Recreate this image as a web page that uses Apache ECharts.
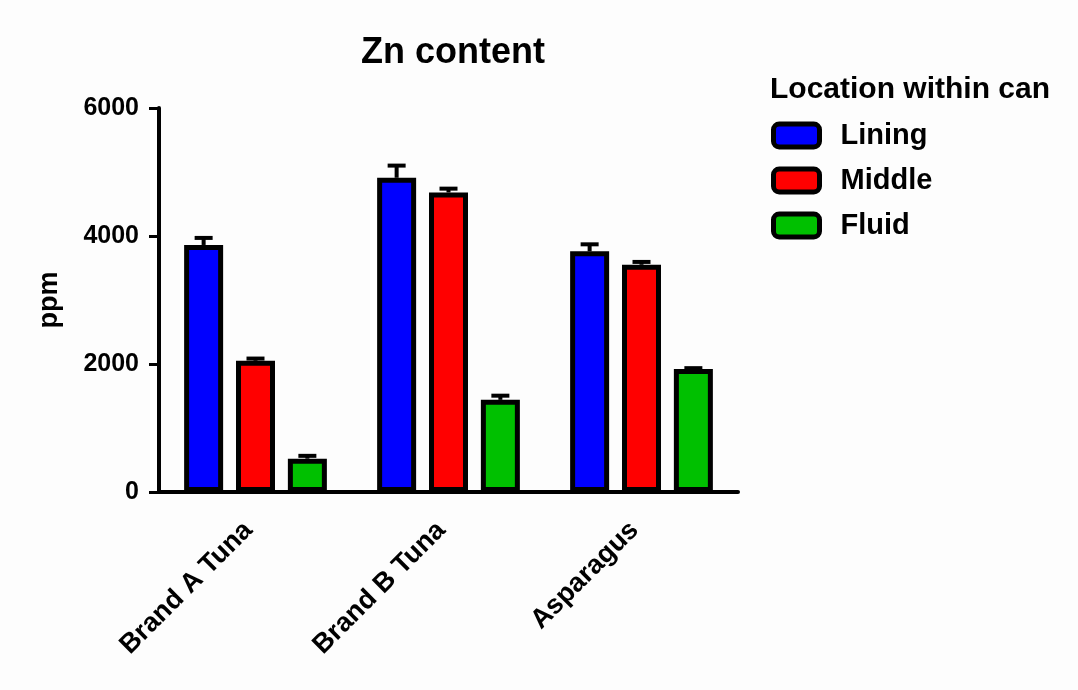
<!DOCTYPE html>
<html>
<head>
<meta charset="utf-8">
<script src="https://cdn.jsdelivr.net/npm/echarts@6/dist/echarts.min.js"></script>
<style>
  html, body { margin: 0; padding: 0; background: #fdfdfd; }
  #chart { width: 1078px; height: 690px; }
</style>
</head>
<body>
<div id="chart"></div>
<script>
// Zn content (ppm) by sample and location within the can, mean + SEM
const categories = ['Brand A Tuna', 'Brand B Tuna', 'Asparagus'];
const seriesNames = ['Lining', 'Middle', 'Fluid'];
const liningMean = [3860, 4910, 3760];
const middleMean = [2050, 4680, 3550];
const fluidMean = [520, 1440, 1920];
const liningErr = [110, 190, 110];
const middleErr = [35, 60, 45];
const fluidErr = [45, 65, 15];
const yTicks = [0, 2000, 4000, 6000];

const means = [liningMean, middleMean, fluidMean];
const errs = [liningErr, middleErr, fluidErr];
const colors = ['#0000ff', '#ff0000', '#00c000'];

const FONT = 'Liberation Sans, Arial, sans-serif';
const BAR_W = 39;
const BAR_GAP = 0.33;
const STEP = BAR_W * (1 + BAR_GAP);

const chart = echarts.init(document.getElementById('chart'), null, { renderer: 'canvas' });

const barSeries = seriesNames.map((name, i) => ({
  name: name,
  type: 'bar',
  barWidth: BAR_W,
  barGap: (BAR_GAP * 100) + '%',
  data: means[i],
  itemStyle: { color: colors[i], borderColor: '#000', borderWidth: 5 },
  z: 2
}));

// upper error bars: stem from the bar top plus a short cap
const errSeries = seriesNames.map((name, i) => ({
  name: name + ' SEM',
  type: 'custom',
  z: 3,
  data: categories.map((c, k) => [k, means[i][k], errs[i][k]]),
  renderItem: function (params, api) {
    const k = api.value(0);
    const m = api.value(1);
    const e = api.value(2);
    const base = api.coord([k, m]);
    const top = api.coord([k, m + e]);
    const x = base[0] + (i - 1) * STEP;
    const capHalf = 9;
    const style = { stroke: '#000', lineWidth: 4 };
    return {
      type: 'group',
      children: [
        { type: 'line', shape: { x1: x, y1: base[1], x2: x, y2: top[1] }, style: style },
        { type: 'line', shape: { x1: x - capHalf, y1: top[1], x2: x + capHalf, y2: top[1] }, style: style }
      ]
    };
  }
}));

chart.setOption({
  backgroundColor: '#fdfdfd',
  animation: false,
  title: [
    {
      text: 'Zn content',
      left: 448,
      top: 30,
      textAlign: 'center',
      textStyle: { fontFamily: FONT, fontWeight: 'bold', fontSize: 36, color: '#000' }
    },
    {
      text: 'Location within can',
      left: 765,
      top: 70,
      textStyle: { fontFamily: FONT, fontWeight: 'bold', fontSize: 30, color: '#000' }
    }
  ],
  legend: {
    data: seriesNames,
    orient: 'vertical',
    left: 766,
    top: 116,
    icon: 'roundRect',
    itemWidth: 46,
    itemHeight: 23,
    itemGap: 16,
    itemStyle: { borderColor: '#000', borderWidth: 5 },
    textStyle: {
      fontFamily: FONT, fontWeight: 'bold', fontSize: 29, color: '#000',
      padding: [0, 0, 0, 16]
    }
  },
  grid: { left: 159, right: 340, top: 108, bottom: 198 },
  xAxis: {
    type: 'category',
    data: categories,
    axisLine: { lineStyle: { color: '#000', width: 4 } },
    axisTick: { alignWithLabel: true, length: 10, lineStyle: { color: '#000', width: 3 } },
    axisLabel: {
      rotate: 45,
      margin: 27,
      padding: [0, 10, 0, 0],
      fontFamily: FONT, fontWeight: 'bold', fontSize: 27, color: '#000'
    }
  },
  yAxis: {
    type: 'value',
    min: yTicks[0],
    max: yTicks[yTicks.length - 1],
    interval: yTicks[1] - yTicks[0],
    name: 'ppm',
    nameLocation: 'middle',
    nameGap: 96,
    nameRotate: 90,
    nameTextStyle: { fontFamily: FONT, fontWeight: 'bold', fontSize: 27, color: '#000' },
    splitLine: { show: false },
    axisLine: { show: true, lineStyle: { color: '#000', width: 4 } },
    axisTick: { show: true, length: 10, lineStyle: { color: '#000', width: 3 } },
    axisLabel: {
      margin: 20,
      formatter: function (v) { return String(v); },
      fontFamily: FONT, fontWeight: 'bold', fontSize: 25, color: '#000'
    }
  },
  series: barSeries.concat(errSeries)
});
</script>
</body>
</html>
